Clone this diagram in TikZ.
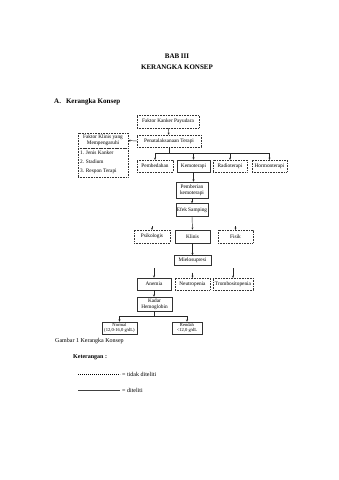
\documentclass[tikz,border=0pt]{standalone}
\usepackage{fontspec}
\setmainfont{Liberation Serif}
\usetikzlibrary{arrows.meta}
\tikzset{
  bx/.style={inner sep=0pt, align=center, font=\fontsize{5.3}{5.9}\selectfont, line width=0.4pt},
  dbox/.style={bx, draw=black!80, dash pattern=on 0.8pt off 0.8pt},
  sbox/.style={bx, draw=black!80, line width=0.6pt},
  arr/.style={-{Stealth[length=2.2pt,width=2pt]}, line width=0.45pt, draw=black!85},
  ln/.style={line width=0.45pt, draw=black!85},
  hd/.style={font=\bfseries\fontsize{7}{8}\selectfont, inner sep=0pt},
  tx/.style={font=\fontsize{6}{7}\selectfont, inner sep=0pt}
}
\begin{document}
\begin{tikzpicture}[x=1pt,y=-1pt]
\useasboundingbox[fill=white] (0,0) rectangle (339,480);
% headings
\node[hd] (bab) at (177,56) {BAB III};
\node[hd] (kk) at (177,67) {KERANGKA KONSEP};
\node[hd, anchor=west] (sec) at (54,102) {A.\hspace{5pt}Kerangka Konsep};
% top chain
\node[dbox, minimum width=62pt, minimum height=13pt] (fkp) at (168,121.5) {Faktor Kanker Payudara};
\node[dbox, minimum width=64pt, minimum height=12pt] (pen) at (169,141) {Penatalaksanaan Terapi};
\draw[arr] (fkp) -- (pen);
% left box
\node[dbox, minimum width=50pt, minimum height=15pt] (fkl) at (103,140.5) {Faktor Klinis yang\\Mempengaruhi};
\node[dbox, anchor=north, minimum width=50pt, minimum height=29pt] (lst) at (fkl.south) {};
\node[bx, anchor=west] (i1) at (80,153) {1. Jenis Kanker};
\node[bx, anchor=west] (i2) at (80,162) {2. Stadium};
\node[bx, anchor=west] (i3) at (80,171) {3. Respon Terapi};
\draw[arr] (pen.west) -- (fkl.east);
% therapies
\node[dbox, minimum width=36pt, minimum height=12pt] (pem) at (155,166) {Pembedahan};
\node[sbox, minimum width=33pt, minimum height=12pt] (kem) at (193.5,166) {Kemoterapi};
\node[dbox, minimum width=34pt, minimum height=12pt] (rad) at (230,166) {Radioterapi};
\node[dbox, minimum width=35pt, minimum height=12pt] (hor) at (269.5,166) {Hormonterapi};
\coordinate (bus) at (169,153);
\draw[ln] (pen.south) -- (bus);
\draw[ln] (pem.north |- bus) -- (hor.north |- bus);
\draw[arr] (pem.north |- bus) -- (pem.north);
\draw[arr] (kem.north |- bus) -- (kem.north);
\draw[arr] (rad.north |- bus) -- (rad.north);
\draw[arr] (hor.north |- bus) -- (hor.north);
% chain
\node[sbox, minimum width=32pt, minimum height=16pt] (pbk) at (192,190) {Pemberian\\kemoterapi};
\draw[arr] (kem.south) -- (kem.south |- pbk.north);
\node[sbox, minimum width=32pt, minimum height=13pt] (efk) at (192,210) {Efek Samping};
\draw[arr] (pbk) -- (efk);
\node[dbox, minimum width=36pt, minimum height=13pt] (psi) at (152,236.5) {Psikologis};
\node[sbox, minimum width=35pt, minimum height=13pt] (kli) at (192.5,236.5) {Klinis};
\node[dbox, minimum width=35pt, minimum height=13pt] (fis) at (235.5,236.5) {Fisik};
\coordinate (ap) at (152,226);
\coordinate (af) at (235.5,226);
\draw[arr] (ap) -- (psi.north);
\draw[arr] (efk.south) -- (kli.north);
\draw[arr] (af) -- (fis.north);
\node[sbox, minimum width=37pt, minimum height=10pt] (mie) at (192.5,260.5) {Mielosupresi};
\draw[arr] (kli) -- (mie);
\node[sbox, minimum width=34pt, minimum height=12pt] (ane) at (154,284) {Anemia};
\node[dbox, minimum width=35pt, minimum height=12pt] (neu) at (192.5,284) {Neutropenia};
\node[dbox, minimum width=40pt, minimum height=12pt] (tro) at (233,284) {Trombositopenia};
\coordinate (aa) at (154,268);
\coordinate (an) at (192.5,272.5);
\coordinate (at) at (233,268);
\draw[arr] (aa) -- (ane.north);
\draw[arr] (an) -- (neu.north);
\draw[arr] (at) -- (tro.north);
\node[sbox, minimum width=35pt, minimum height=14pt] (kad) at (154.5,304) {Kadar\\Hemoglobin};
\draw[arr] (ane.south) -- (ane.south |- kad.north);
\node[sbox, minimum width=35pt, minimum height=12pt, font=\fontsize{4.6}{5.4}\selectfont] (nor) at (119.5,328) {Normal\\(12,0-16,0 g/dL)};
\node[sbox, minimum width=30pt, minimum height=12pt, font=\fontsize{4.6}{5.4}\selectfont] (ren) at (187,328) {Rendah\\<12,0 g/dL};
\coordinate (bus2) at (154.5,316);
\draw[ln] (kad.south) -- (bus2);
\draw[ln] (nor.north |- bus2) -- (ren.north |- bus2);
\draw[arr] (nor.north |- bus2) -- (nor.north);
\draw[arr] (ren.north |- bus2) -- (ren.north);
% caption and legend
\node[tx, anchor=west] (cap) at (55,341) {Gambar 1 Kerangka Konsep};
\node[tx, anchor=west, font=\bfseries\fontsize{6}{7}\selectfont] (ket) at (73,357) {Keterangan :};
\coordinate (l1a) at (78,374);
\coordinate (l1b) at (120,374);
\draw[line width=0.4pt, dash pattern=on 1.2pt off 0.8pt] (l1a) -- (l1b);
\node[tx, anchor=west] (t1) at (122,374) {= tidak diteliti};
\coordinate (l2a) at (78,390);
\coordinate (l2b) at (120,390);
\draw[line width=0.7pt, draw=black!75] (l2a) -- (l2b);
\node[tx, anchor=west] (t2) at (122,390) {= diteliti};
\end{tikzpicture}
\end{document}
